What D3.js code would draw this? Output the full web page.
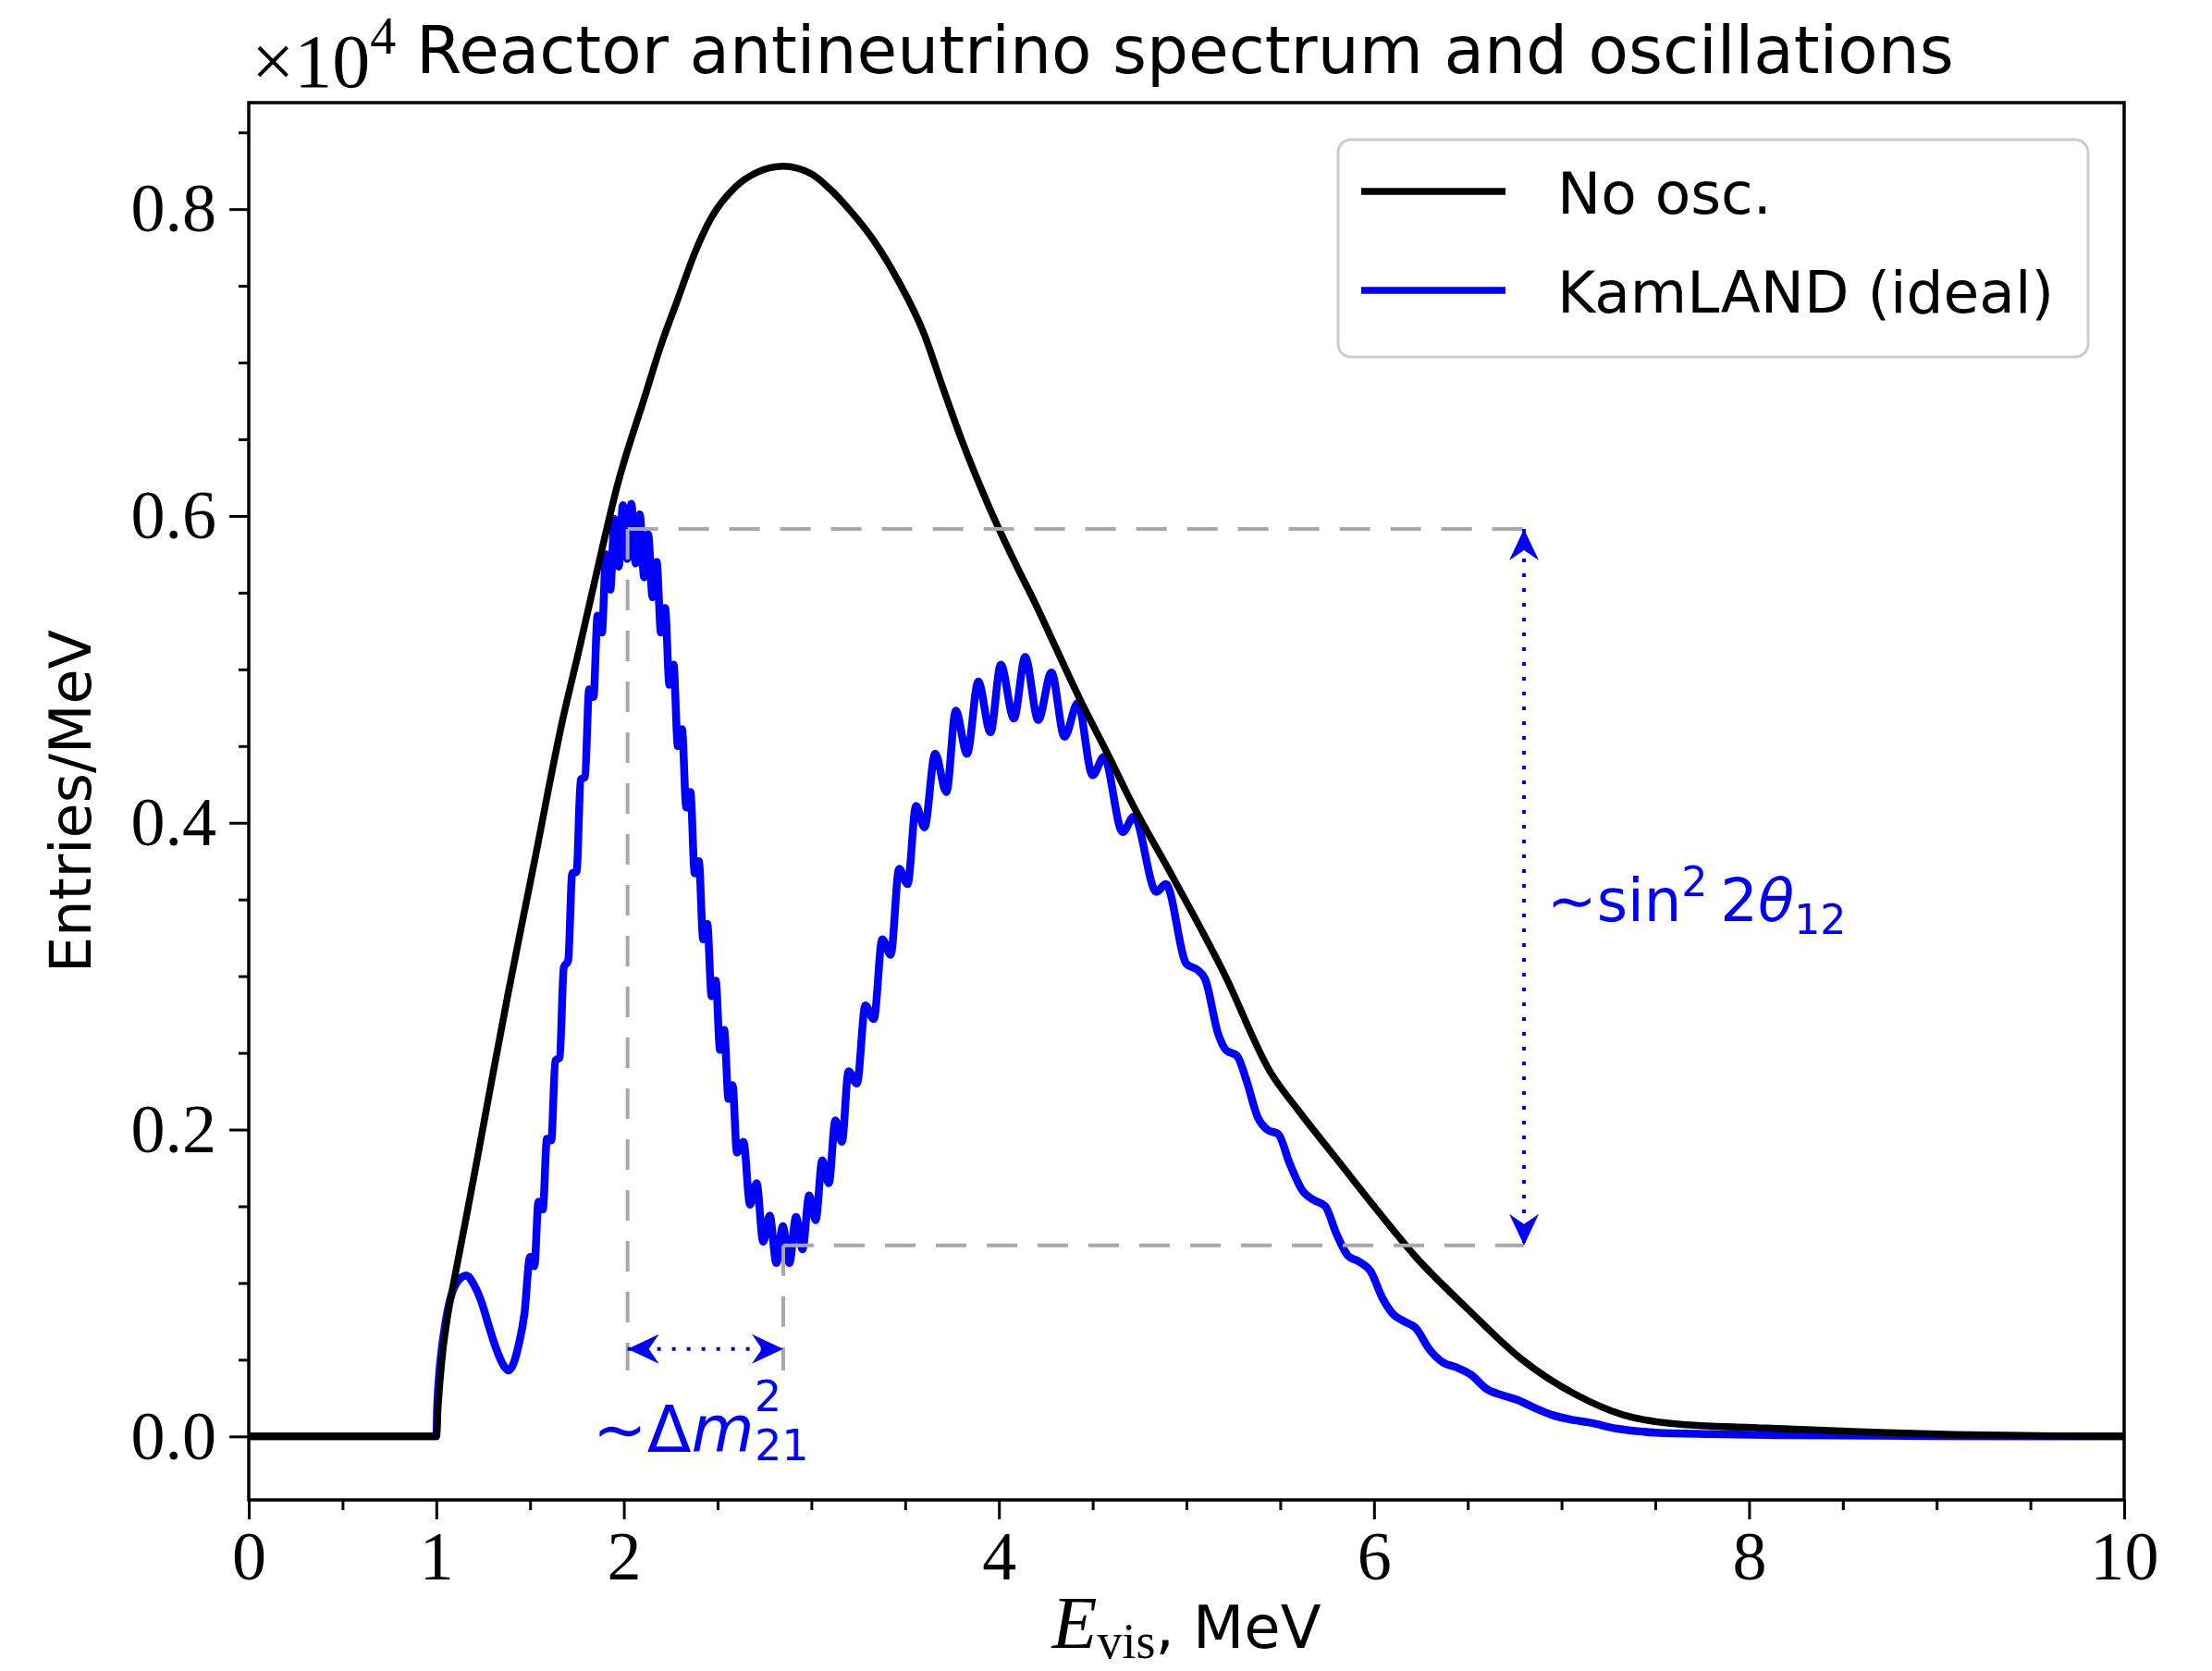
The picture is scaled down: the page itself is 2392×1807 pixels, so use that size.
<!DOCTYPE html>
<html lang="en">
<head>
    <meta charset="UTF-8">
    <title>Reactor antineutrino spectrum and oscillations</title>
    <script src="https://d3js.org/d3.v7.min.js"></script>
    <style>
        body { margin: 0; background: #fff; }
        .sans { font-family: "DejaVu Sans", sans-serif; }
        .serif { font-family: "Liberation Serif", serif; }
    </style>
</head>
<body>
    <svg id="chart" width="2392" height="1807"></svg>

    <script>
        // Data (energy in MeV, entries/MeV in units of 1e4)
        const noOscPoints = [
            [0, 0], [1.0, 0], [1.01, 0.02], [1.03, 0.05], [1.06, 0.078], [1.1, 0.105],
            [1.16, 0.143], [1.22, 0.182], [1.3, 0.235], [1.385, 0.29], [1.45, 0.33],
            [1.54, 0.385], [1.6, 0.423], [1.67, 0.465], [1.76, 0.512], [1.84, 0.555],
            [1.97, 0.622], [2.11, 0.677], [2.2, 0.712], [2.29, 0.742], [2.38, 0.772],
            [2.46, 0.793], [2.6, 0.815], [2.71, 0.824], [2.85, 0.828], [3.0, 0.823],
            [3.1, 0.813], [3.2, 0.8], [3.33, 0.78], [3.46, 0.754], [3.6, 0.719],
            [3.7, 0.684], [3.8, 0.65], [3.94, 0.608], [4.1, 0.566], [4.19, 0.544],
            [4.3, 0.515], [4.43, 0.481], [4.6, 0.44], [4.7, 0.415], [4.93, 0.364],
            [5.2, 0.302], [5.45, 0.237], [5.6, 0.212], [5.8, 0.181], [6.0, 0.15],
            [6.23, 0.116], [6.5, 0.083], [6.78, 0.051], [7.08, 0.027], [7.33, 0.014],
            [7.58, 0.0085], [8.09, 0.0054], [8.59, 0.003], [9.09, 0.0012], [9.6, 0.0004],
            [10, 0]
        ];

        const kamlandPoints = [
            [0, 0], [1.0, 0], [1.005, 0.02], [1.015, 0.04], [1.03, 0.058], [1.05, 0.075],
            [1.08, 0.092], [1.12, 0.102], [1.16, 0.105], [1.2, 0.099], [1.24, 0.088],
            [1.28, 0.072], [1.32, 0.057], [1.36, 0.046], [1.385, 0.043], [1.41, 0.047],
            [1.44, 0.06], [1.47, 0.08],
            [1.5, 0.117], [1.523, 0.111], [1.545, 0.153], [1.568, 0.148], [1.59, 0.194],
            [1.613, 0.193], [1.635, 0.245], [1.658, 0.247], [1.68, 0.306], [1.703, 0.31],
            [1.725, 0.367], [1.748, 0.368], [1.77, 0.428], [1.793, 0.43], [1.815, 0.487],
            [1.838, 0.482], [1.86, 0.535], [1.883, 0.524], [1.905, 0.575], [1.928, 0.552],
            [1.95, 0.598], [1.973, 0.567], [1.995, 0.607], [2.018, 0.572], [2.04, 0.608],
            [2.063, 0.569], [2.085, 0.601], [2.108, 0.56], [2.13, 0.588], [2.153, 0.547],
            [2.175, 0.57], [2.198, 0.524], [2.22, 0.54], [2.243, 0.49], [2.265, 0.503],
            [2.288, 0.45], [2.31, 0.461], [2.333, 0.41], [2.355, 0.42], [2.378, 0.367],
            [2.4, 0.375], [2.423, 0.324], [2.445, 0.334], [2.468, 0.287], [2.49, 0.297],
            [2.513, 0.252], [2.535, 0.265], [2.558, 0.22], [2.58, 0.229], [2.603, 0.185],
            [2.638, 0.192], [2.673, 0.151], [2.708, 0.165], [2.743, 0.127], [2.778, 0.144],
            [2.813, 0.113], [2.848, 0.137], [2.883, 0.113], [2.918, 0.143], [2.953, 0.122],
            [2.988, 0.157], [3.023, 0.141], [3.058, 0.18], [3.093, 0.165], [3.128, 0.206],
            [3.163, 0.192], [3.198, 0.238], [3.243, 0.23], [3.288, 0.281], [3.333, 0.272],
            [3.378, 0.324], [3.423, 0.314], [3.468, 0.37], [3.513, 0.36], [3.558, 0.411],
            [3.603, 0.397], [3.66, 0.445], [3.72, 0.42], [3.77, 0.473], [3.83, 0.445],
            [3.89, 0.492], [3.955, 0.459], [4.01, 0.503], [4.08, 0.468], [4.14, 0.508],
            [4.21, 0.467], [4.28, 0.498], [4.35, 0.456], [4.42, 0.478], [4.5, 0.431],
            [4.56, 0.443], [4.66, 0.394], [4.72, 0.404], [4.84, 0.355], [4.89, 0.36],
            [5.0, 0.308], [5.06, 0.304], [5.1, 0.298], [5.17, 0.262], [5.21, 0.252],
            [5.27, 0.248], [5.32, 0.232], [5.38, 0.208], [5.43, 0.2], [5.49, 0.197],
            [5.55, 0.178], [5.62, 0.16], [5.68, 0.154], [5.74, 0.15], [5.8, 0.132],
            [5.86, 0.118], [5.92, 0.114], [5.98, 0.108], [6.05, 0.089], [6.1, 0.08],
            [6.16, 0.075], [6.22, 0.071], [6.3, 0.056], [6.37, 0.048], [6.44, 0.045],
            [6.52, 0.04], [6.6, 0.031], [6.68, 0.027], [6.76, 0.024], [6.85, 0.019],
            [6.95, 0.014], [7.05, 0.011], [7.15, 0.009], [7.3, 0.005], [7.5, 0.0025],
            [7.8, 0.0015], [8.2, 0.0008], [9.0, 0.0002], [10, 0]
        ];

        const seriesNames = ["No osc.", "KamLAND (ideal)"];
        const xTicks = [0, 1, 2, 4, 6, 8, 10];
        const xMinorTicks = [0.5, 1.5, 2.5, 3, 3.5, 4.5, 5, 5.5, 6.5, 7, 7.5, 8.5, 9, 9.5];
        const yTicks = [0, 0.2, 0.4, 0.6, 0.8];
        const yMinorTicks = [0.05, 0.1, 0.15, 0.25, 0.3, 0.35, 0.45, 0.5, 0.55, 0.65, 0.7, 0.75, 0.85];

        // annotation levels
        const peakLevel = 0.5915, troughLevel = 0.1245;
        const peakE = 2.02, troughE = 2.85, ampArrowE = 6.8;
        const dmArrowLevel = 0.057, dashBottom = 0.043;

        const svg = d3.select("#chart");
        const plot = { left: 269, right: 2297, top: 111, bottom: 1622 };

        const x = d3.scaleLinear().domain([0, 10]).range([plot.left, plot.right]);
        const y = d3.scaleLinear().domain([-0.0414, 0.8694]).range([plot.bottom, plot.top]);

        const blue = "#0000ff";
        const gray = "#a8a8a8";

        // curves (blue first, black drawn on top)
        const line = d3.line()
            .x(d => x(d[0]))
            .y(d => y(d[1]))
            .curve(d3.curveMonotoneX);

        svg.append("path")
            .datum(kamlandPoints)
            .attr("fill", "none")
            .attr("stroke", blue)
            .attr("stroke-width", 8.5)
            .attr("stroke-linejoin", "round")
            .attr("d", line);

        svg.append("path")
            .datum(noOscPoints)
            .attr("fill", "none")
            .attr("stroke", "#000")
            .attr("stroke-width", 7.5)
            .attr("stroke-linejoin", "round")
            .attr("d", line);

        // gray dashed guide lines
        const guides = [
            [[peakE, peakLevel], [ampArrowE, peakLevel]],
            [[troughE, troughLevel], [ampArrowE, troughLevel]],
            [[peakE, peakLevel], [peakE, dashBottom]],
            [[troughE, troughLevel], [troughE, dashBottom]]
        ];
        svg.selectAll(".guide")
            .data(guides)
            .enter().append("line")
            .attr("class", "guide")
            .attr("x1", d => x(d[0][0]))
            .attr("y1", d => y(d[0][1]))
            .attr("x2", d => x(d[1][0]))
            .attr("y2", d => y(d[1][1]))
            .attr("stroke", gray)
            .attr("stroke-width", 4)
            .attr("stroke-dasharray", "33 22");

        // dotted double arrows
        function arrowHead(px, py, angle) {
            svg.append("path")
                .attr("d", "M0,0 L-34,-16 L-23,0 L-34,16 Z")
                .attr("fill", blue)
                .attr("transform", `translate(${px},${py}) rotate(${angle})`);
        }

        function dottedArrow(p1, p2) {
            const x1 = x(p1[0]), y1 = y(p1[1]), x2 = x(p2[0]), y2 = y(p2[1]);
            const ang = Math.atan2(y2 - y1, x2 - x1) * 180 / Math.PI;
            svg.append("line")
                .attr("x1", x1).attr("y1", y1)
                .attr("x2", x2).attr("y2", y2)
                .attr("stroke", blue)
                .attr("stroke-width", 4)
                .attr("stroke-dasharray", "4 12");
            arrowHead(x2, y2, ang);
            arrowHead(x1, y1, ang + 180);
        }

        dottedArrow([peakE, dmArrowLevel], [troughE, dmArrowLevel]);
        dottedArrow([ampArrowE, peakLevel], [ampArrowE, troughLevel]);

        // annotation texts
        const dmText = svg.append("text")
            .attr("class", "sans")
            .attr("x", 641)
            .attr("y", 1570)
            .attr("fill", blue)
            .attr("font-size", 70);
        dmText.append("tspan").text("∼Δ");
        dmText.append("tspan").attr("font-style", "italic").text("m");
        dmText.append("tspan").attr("font-size", 46).attr("dy", -44).text("2");
        dmText.append("tspan").attr("font-size", 46).attr("dx", -29).attr("dy", 53).text("21");

        const sinText = svg.append("text")
            .attr("class", "sans")
            .attr("x", 1673)
            .attr("y", 996)
            .attr("fill", blue)
            .attr("font-size", 64);
        sinText.append("tspan").text("∼sin");
        sinText.append("tspan").attr("font-size", 44).attr("dy", -27).text("2");
        sinText.append("tspan").attr("dx", 14).attr("dy", 27).text("2");
        sinText.append("tspan").attr("font-style", "italic").text("θ");
        sinText.append("tspan").attr("font-size", 44).attr("dy", 14).text("12");

        // axes frame
        svg.append("rect")
            .attr("x", plot.left)
            .attr("y", plot.top)
            .attr("width", plot.right - plot.left)
            .attr("height", plot.bottom - plot.top)
            .attr("fill", "none")
            .attr("stroke", "#000")
            .attr("stroke-width", 3.5);

        // ticks
        const yAxis = svg.append("g")
            .attr("transform", `translate(${plot.left},0)`)
            .call(d3.axisLeft(y).tickValues(yTicks).tickFormat(d3.format(".1f"))
                .tickSize(21).tickPadding(14));
        const yMinor = svg.append("g")
            .attr("transform", `translate(${plot.left},0)`)
            .call(d3.axisLeft(y).tickValues(yMinorTicks).tickFormat("").tickSize(11));
        const xAxis = svg.append("g")
            .attr("transform", `translate(0,${plot.bottom})`)
            .call(d3.axisBottom(x).tickValues(xTicks).tickFormat(d3.format("d"))
                .tickSize(21).tickPadding(12));
        const xMinor = svg.append("g")
            .attr("transform", `translate(0,${plot.bottom})`)
            .call(d3.axisBottom(x).tickValues(xMinorTicks).tickFormat("").tickSize(11));

        [yAxis, yMinor, xAxis, xMinor].forEach(g => {
            g.select(".domain").remove();
            g.selectAll(".tick line").attr("stroke", "#000").attr("stroke-width", 3);
            g.selectAll(".tick text")
                .attr("font-family", "Liberation Serif, serif")
                .attr("font-size", 74)
                .attr("fill", "#000");
        });

        // title and multiplier
        svg.append("text")
            .attr("class", "sans")
            .attr("x", 450)
            .attr("y", 79)
            .attr("font-size", 71)
            .text("Reactor antineutrino spectrum and oscillations");

        const mult = svg.append("text")
            .attr("class", "serif")
            .attr("x", 272)
            .attr("y", 94)
            .attr("font-size", 82);
        mult.append("tspan").text("×10");
        mult.append("tspan").attr("font-size", 56).attr("dy", -36).text("4");

        // axis labels
        svg.append("text")
            .attr("class", "sans")
            .attr("transform", `translate(98,${(plot.top + plot.bottom) / 2}) rotate(-90)`)
            .attr("text-anchor", "middle")
            .attr("font-size", 62)
            .text("Entries/MeV");

        const xLabel = svg.append("text")
            .attr("x", (plot.left + plot.right) / 2)
            .attr("y", 1782)
            .attr("text-anchor", "middle");
        xLabel.append("tspan").attr("class", "serif").attr("font-style", "italic")
            .attr("font-size", 80).text("E");
        xLabel.append("tspan").attr("class", "serif").attr("font-size", 54)
            .attr("dy", 11).text("vis");
        xLabel.append("tspan").attr("class", "sans").attr("font-size", 64)
            .attr("dy", -11).text(", MeV");

        // legend
        const legend = svg.append("g");
        legend.append("rect")
            .attr("x", 1447).attr("y", 151)
            .attr("width", 811).attr("height", 235)
            .attr("rx", 14)
            .attr("fill", "#fff").attr("fill-opacity", 0.8)
            .attr("stroke", "#cccccc").attr("stroke-width", 3);

        const legendColors = ["#000", blue];
        const legendRows = legend.selectAll(".row")
            .data(seriesNames)
            .enter().append("g")
            .attr("class", "row")
            .attr("transform", (d, i) => `translate(0,${207 + i * 107})`);
        legendRows.append("line")
            .attr("x1", 1472).attr("x2", 1628)
            .attr("stroke", (d, i) => legendColors[i])
            .attr("stroke-width", 7.5);
        legendRows.append("text")
            .attr("class", "sans")
            .attr("x", 1684)
            .attr("y", 24)
            .attr("font-size", 63)
            .text(d => d);
    </script>
</body>
</html>
